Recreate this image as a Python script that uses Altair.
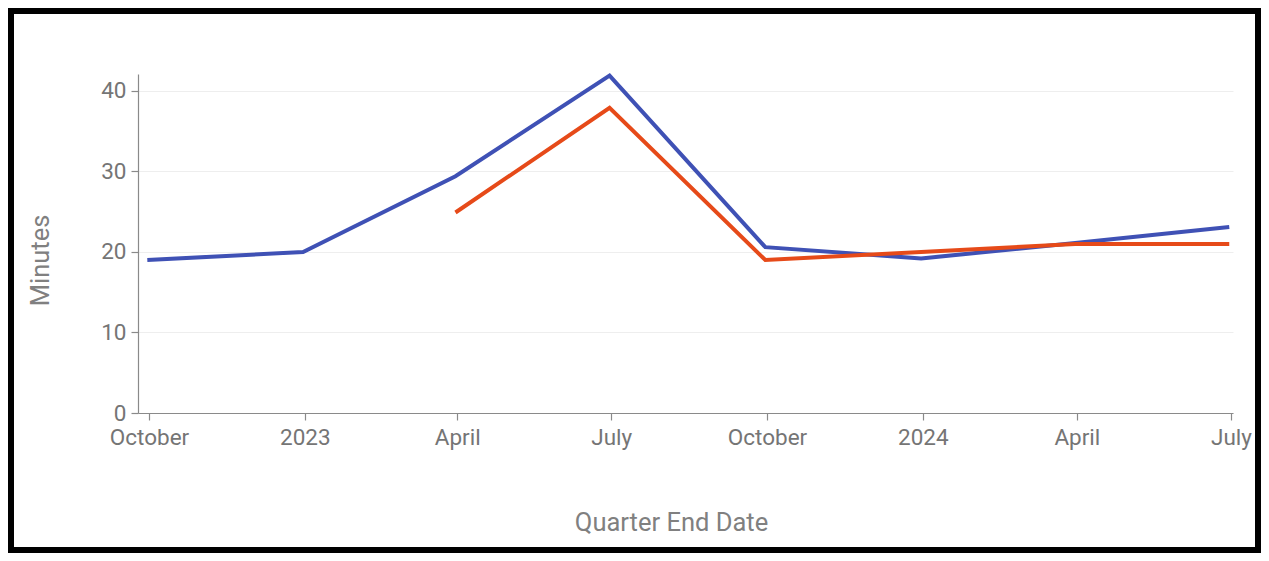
import altair as alt
import pandas as pd

# Quarter end dates
dates = ["2022-09-30T00:00", "2022-12-31T00:00", "2023-03-31T00:00", "2023-06-30T00:00",
         "2023-09-30T00:00", "2023-12-31T00:00", "2024-03-31T00:00", "2024-06-30T00:00"]
series_a = [19.0, 20.0, 29.4, 41.9, 20.6, 19.2, 21.1, 23.1]
series_b = [None, None, 24.9, 37.9, 19.0, 20.0, 21.0, 21.0]
series_names = ["Series A", "Series B"]
series_colors = ["#3F51B5", "#E64A19"]

rows = []
for d, a, b in zip(dates, series_a, series_b):
    rows.append({"date": d, "minutes": a, "series": series_names[0], "order": 0})
    if b is not None:
        rows.append({"date": d, "minutes": b, "series": series_names[1], "order": 1})
df = pd.DataFrame(rows)

tick_values = [alt.DateTime(year=2022, month=10, date=1), alt.DateTime(year=2023, month=1, date=1),
               alt.DateTime(year=2023, month=4, date=1), alt.DateTime(year=2023, month=7, date=1),
               alt.DateTime(year=2023, month=10, date=1), alt.DateTime(year=2024, month=1, date=1),
               alt.DateTime(year=2024, month=4, date=1), alt.DateTime(year=2024, month=7, date=1)]

x_domain = [alt.DateTime(year=2022, month=9, date=24, hours=12),
            alt.DateTime(year=2024, month=7, date=2, hours=5)]

lines = alt.Chart(df).mark_line(strokeWidth=4).encode(
    x=alt.X("date:T", title="Quarter End Date",
            scale=alt.Scale(domain=x_domain, nice=False),
            axis=alt.Axis(values=tick_values, grid=False, labelFlush=False, labelOverlap=False,
                          labelExpr="month(datum.value) == 0 ? timeFormat(datum.value, '%Y') : timeFormat(datum.value, '%B')",
                          tickSize=7, labelPadding=6,
                          titleX=533, titleY=109, titleBaseline="middle", titleAnchor="middle",
                          titleAlign="center")),
    y=alt.Y("minutes:Q", title="Minutes",
            scale=alt.Scale(domain=[0, 42.1], nice=False),
            axis=alt.Axis(values=[0, 10, 20, 30, 40], tickSize=7, labelPadding=5,
                          titleX=-98, titleY=186, titleBaseline="middle",
                          titleAlign="center", titleAnchor="middle")),
    color=alt.Color("series:N", scale=alt.Scale(domain=series_names, range=series_colors), legend=None),
    detail="series:N",
    order=alt.Order("order:Q"),
)

frame = alt.Chart(pd.DataFrame({"k": [0]})).mark_rect(
    fill="transparent", stroke="black", strokeWidth=6
).encode(
    x=alt.value(-127), x2=alt.value(1120), y=alt.value(-63), y2=alt.value(476)
)

chart = alt.layer(lines, frame).properties(
    width=1095, height=339,
    autosize=alt.AutoSizeParams(type="none"),
    padding={"left": 130, "top": 66, "right": 28, "bottom": 140},
    background="white",
).configure_view(stroke=None).configure_axis(
    labelFont="Roboto", titleFont="Roboto", labelFontSize=22.5, titleFontSize=25.5,
    labelColor="#757575", titleColor="#808080", titleFontWeight="normal",
    domainColor="#8a8a8a", tickColor="#8a8a8a", gridColor="#eeeeee", gridWidth=1,
    domainWidth=1.2, tickWidth=1.2,
)

chart.save("out.html", embed_options={"renderer": "svg", "actions": False})
